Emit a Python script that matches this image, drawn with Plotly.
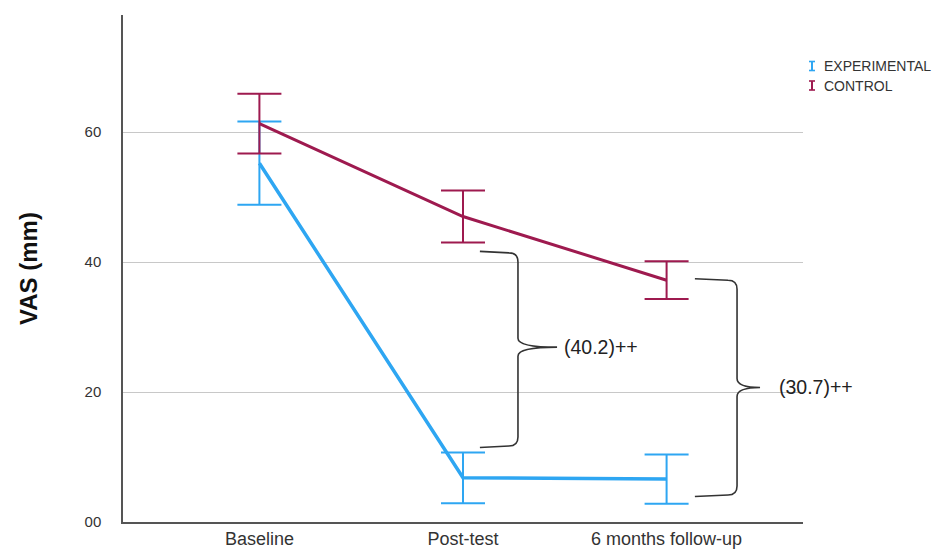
import plotly.graph_objects as go

# ---------------- data ----------------
categories = ["Baseline", "Post-test", "6 months follow-up"]
experimental_mean = [55.2, 6.8, 6.6]
experimental_err = [6.4, 3.9, 3.8]
control_mean = [61.3, 47.0, 37.2]
control_err = [4.6, 4.0, 2.9]
y_tickvals = [0, 20, 40, 60]
y_ticktext = ["00", "20", "40", "60"]

# brace annotations (comparison between groups)
brace_labels = ["(40.2)++", "(30.7)++"]
brace_top = [41.4, 37.2]
brace_bottom = [11.7, 4.15]
brace_mid = [26.9, 20.7]
brace_tip_x = [1.083, 2.139]
brace_spine_x = [1.270, 2.346]
brace_point_x = [1.462, 2.459]
brace_label_x = [1.486, 2.542]

# ---------------- style ----------------
C_EXP = "#2EA6F2"
C_CTRL = "#9E1A4F"
PAGE_OFF = 8          # default page body margin of the html page
W, H = 942 - PAGE_OFF, 550 - PAGE_OFF
M_L, M_R, M_T, M_B = 115, 139, 7, 28
X_RANGE = [-0.67, 2.67]
Y_RANGE = [0, 78]
PW = W - M_L - M_R
PH = H - M_T - M_B
PX_X = PW / (X_RANGE[1] - X_RANGE[0])   # px per x unit
PX_Y = PH / (Y_RANGE[1] - Y_RANGE[0])   # px per y unit

x_idx = list(range(len(categories)))

fig = go.Figure()
fig.add_trace(go.Scatter(
    x=x_idx, y=experimental_mean, mode="lines", name="EXPERIMENTAL",
    line=dict(color=C_EXP, width=3.5),
    error_y=dict(type="data", array=experimental_err, visible=True,
                 color=C_EXP, thickness=2, width=22),
    showlegend=False, hoverinfo="x+y"))
fig.add_trace(go.Scatter(
    x=x_idx, y=control_mean, mode="lines", name="CONTROL",
    line=dict(color=C_CTRL, width=3),
    error_y=dict(type="data", array=control_err, visible=True,
                 color=C_CTRL, thickness=2, width=22),
    showlegend=False, hoverinfo="x+y"))

shapes = []
annotations = []

# curly braces
for i, lab in enumerate(brace_labels):
    x0, xs, xp = brace_tip_x[i], brace_spine_x[i], brace_point_x[i]
    yt, yb, ym = brace_top[i], brace_bottom[i], brace_mid[i]
    rx = 9 / PX_X
    ry = 9 / PX_Y
    d = 1.5 / PX_Y
    bh = 9 / PX_Y
    path = (
        f"M {x0},{yt + d} L {xs - rx},{yt} Q {xs},{yt} {xs},{yt - ry} "
        f"L {xs},{ym + bh} Q {xs},{ym} {xp},{ym} "
        f"Q {xs},{ym} {xs},{ym - bh} "
        f"L {xs},{yb + ry} Q {xs},{yb} {xs - rx},{yb} L {x0},{yb - d}"
    )
    shapes.append(dict(type="path", path=path, xref="x", yref="y",
                       line=dict(color="#333333", width=1.6),
                       fillcolor="rgba(0,0,0,0)", layer="above"))
    annotations.append(dict(x=brace_label_x[i], y=ym, xref="x", yref="y",
                            text=lab, showarrow=False, xanchor="left",
                            yanchor="middle",
                            font=dict(family="Liberation Sans, Arial",
                                      size=19.5, color="#222222")))

# legend (error-bar icons + labels), positions in page pixels
legend_items = [("EXPERIMENTAL", C_EXP), ("CONTROL", C_CTRL)]
leg_px_x = 812 - PAGE_OFF
leg_px_y = [66 - PAGE_OFF, 85.5 - PAGE_OFF]
for (lab, col), py in zip(legend_items, leg_px_y):
    px = (leg_px_x - M_L) / PW
    half_h = 4.5 / PH
    half_w = 3 / PW
    pyp = (H - M_B - py) / PH
    shapes.append(dict(type="line", xref="paper", yref="paper",
                       x0=px, x1=px, y0=pyp - half_h, y1=pyp + half_h,
                       line=dict(color=col, width=2)))
    for yy in (pyp - half_h, pyp + half_h):
        shapes.append(dict(type="line", xref="paper", yref="paper",
                           x0=px - half_w, x1=px + half_w, y0=yy, y1=yy,
                           line=dict(color=col, width=1.6)))
    annotations.append(dict(x=(leg_px_x + 10 - M_L) / PW, y=pyp,
                            xref="paper", yref="paper", text=lab,
                            showarrow=False, xanchor="left", yanchor="middle",
                            font=dict(family="Liberation Sans, Arial",
                                      size=14, color="#333333")))

fig.update_layout(
    width=W, height=H,
    margin=dict(l=M_L, r=M_R, t=M_T, b=M_B, pad=0),
    paper_bgcolor="white", plot_bgcolor="white",
    showlegend=False,
    shapes=shapes, annotations=annotations,
    font=dict(family="Liberation Sans, Arial", color="#333333"),
    xaxis=dict(range=X_RANGE, tickvals=x_idx, ticktext=categories,
               showgrid=False, zeroline=False, showline=True,
               linecolor="#555555", linewidth=1.5, ticks="",
               tickfont=dict(size=18, color="#333333"), automargin=False),
    yaxis=dict(range=Y_RANGE, tickvals=y_tickvals, ticktext=y_ticktext,
               showgrid=True, gridcolor="#C8C8C8", gridwidth=1,
               zeroline=False, showline=True, linecolor="#555555",
               linewidth=1.5, ticks="", ticklabelstandoff=17,
               tickfont=dict(size=15, color="#333333"), automargin=False,
               title=dict(text="<b>VAS (mm)</b>", standoff=40,
                          font=dict(size=24, color="#111111"))),
)

fig.write_html("out.html")
